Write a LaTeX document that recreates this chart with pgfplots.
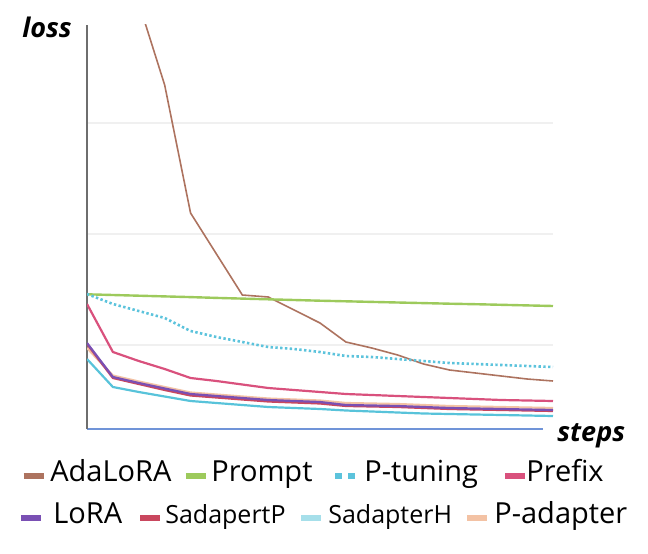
\documentclass[border=0pt]{standalone}
\usepackage{fontspec}
\setmainfont{Open Sans}
\usepackage{pgfplots}
\pgfplotsset{compat=1.18}
\usepackage{pgfplotstable}
\definecolor{cAda}{HTML}{AD735F}
\definecolor{cPrompt}{HTML}{9DCA5C}
\definecolor{cPtun}{HTML}{5CC3DC}
\definecolor{cPrefix}{HTML}{D9517D}
\definecolor{cLoRA}{HTML}{7A50B4}
\definecolor{cSadP}{HTML}{C9475E}
\definecolor{cSadH}{HTML}{58C3DA}
\definecolor{cSadHleg}{HTML}{A6DFEA}
\definecolor{cPad}{HTML}{F3C2A4}
\definecolor{cXaxis}{HTML}{7094D8}
\definecolor{cYaxis}{HTML}{6E6E6E}
\definecolor{cGrid}{HTML}{F0F0F0}

\pgfplotstableread{
x ada prompt ptun prefix lora sadp sadh pad
0 700 134.7 135 125 86 85 70 81
1 560 134.0 125 77 52 51 42 53.5
2 426 133.3 118 68 46 45 37 47.5
3 344 132.6 111 60 40.5 39 32.5 42
4 216 131.9 98 51 35 33.5 28 36.5
5 175 131.1 92 48 33 31.5 26 34.5
6 134 130.4 87 44.5 31 29.5 24 32.5
7 132 129.7 82 41 29 27.5 22 30.5
8 119 129.0 80 39 28 26.5 21 29.5
9 106 128.3 77 37 27 25.5 20 28.5
10 87 127.7 73 35 24 23 18.5 26
11 81 127.1 72 34 23.5 22.5 17.5 25.5
12 74 126.5 70 33 23 22 16.5 25
13 65 125.9 68 32 22 21 15.5 24
14 59 125.3 66 31 21 20 15 23
15 56 124.8 65 30 20.5 19.5 14.5 22.5
16 53 124.2 64 29 20 19 14 22
17 50 123.6 63 28.5 19.5 18.5 13.5 21.5
18 48 123.0 62 28 19 18 13 21
}\losstable

\pgfplotsset{
  commonaxis/.style={
    scale only axis, width=233pt, height=202pt,
    xmin=0, xmax=18, ymin=0, ymax=404,
    at={(43.5pt,62pt)}, anchor=south west,
  },
  legone/.style={
    hide axis,
    legend style={draw=none, fill=none, inner sep=0pt, outer sep=0pt,
      anchor=west, at={#1},
      /tikz/every even column/.style={column sep=0pt},
      /tikz/every odd column/.style={column sep=0pt},
      nodes={inner sep=0pt, outer sep=0pt, text height=0.75em, text depth=0.2em,
        font=\fontsize{14.5}{17}\selectfont}},
  },
  swatch/.style={legend image code/.code={\draw[line width=3pt,draw=#1] (0pt,0pt) -- (10pt,0pt);}},
}

\begin{document}
\begin{tikzpicture}
\path[use as bounding box] (0pt,0pt) rectangle (324pt,276.5pt);
\begin{axis}[commonaxis,
  axis lines*=left,
  x axis line style={draw=cXaxis, line width=0.6pt, shorten >=5pt},
  y axis line style={draw=cYaxis, line width=0.7pt},
  xtick=\empty,
  ytick={84,195,306}, yticklabels={},
  major tick length=0pt,
  ymajorgrids, grid style={draw=cGrid, line width=0.6pt},
]
\addplot[cAda, line width=0.8pt] table[x=x,y=ada] {\losstable};
\addplot[cPrompt, line width=1.2pt] table[x=x,y=prompt] {\losstable};
\addplot[cPtun, line width=1.3pt, dash pattern=on 1.2pt off 1.2pt] table[x=x,y=ptun] {\losstable};
\addplot[cPrefix, line width=1.1pt] table[x=x,y=prefix] {\losstable};
\addplot[cPad, line width=1.1pt] table[x=x,y=pad] {\losstable};
\addplot[cSadH, line width=1.1pt] table[x=x,y=sadh] {\losstable};
\addplot[cSadP, line width=1.1pt] table[x=x,y=sadp] {\losstable};
\addplot[cLoRA, line width=1.1pt] table[x=x,y=lora] {\losstable};
\end{axis}
% legend, row 1
\begin{axis}[commonaxis, legone={(-0.1423,-0.1163)}]
\addlegendimage{swatch=cAda}
\addlegendentry{\hspace*{1.8pt}AdaLoRA}
\end{axis}
\begin{axis}[commonaxis, legone={(0.2060,-0.1163)}]
\addlegendimage{swatch=cPrompt}
\addlegendentry{\hspace*{1.15pt}Prompt}
\end{axis}
\begin{axis}[commonaxis, legone={(0.5258,-0.1163)}]
\addlegendimage{legend image code/.code={\draw[line width=3pt,draw=cPtun,dash pattern=on 3.3pt off 3.4pt] (0pt,0pt) -- (10pt,0pt);}}
\addlegendentry{\hspace*{3.15pt}P-tuning}
\end{axis}
\begin{axis}[commonaxis, legone={(0.8906,-0.1163)}]
\addlegendimage{swatch=cPrefix}
\addlegendentry{\hspace*{-0.85pt}Prefix}
\end{axis}
% legend, row 2
\begin{axis}[commonaxis, legone={(-0.1481,-0.2203)}]
\addlegendimage{swatch=cLoRA}
\addlegendentry{\hspace*{4.65pt}LoRA}
\end{axis}
\begin{axis}[commonaxis, legone={(0.1073,-0.2203)}]
\addlegendimage{swatch=cSadP}
\addlegendentry{\hspace*{1.15pt}{\fontsize{12.5}{15}\selectfont SadapertP}}
\end{axis}
\begin{axis}[commonaxis, legone={(0.4528,-0.2203)}]
\addlegendimage{swatch=cSadHleg}
\addlegendentry{\hspace*{2.15pt}{\fontsize{12.5}{15}\selectfont SadapterH}}
\end{axis}
\begin{axis}[commonaxis, legone={(0.8090,-0.2203)}]
\addlegendimage{swatch=cPad}
\addlegendentry{\hspace*{2.15pt}P-adapter}
\end{axis}
\node[anchor=base west, inner sep=0pt, font=\fontsize{13.5}{16}\selectfont\bfseries\itshape] at (11pt,257.5pt) {loss};
\node[anchor=base west, inner sep=0pt, font=\fontsize{13.5}{16}\selectfont\bfseries\itshape] at (278.5pt,56pt) {steps};
\end{tikzpicture}
\end{document}
